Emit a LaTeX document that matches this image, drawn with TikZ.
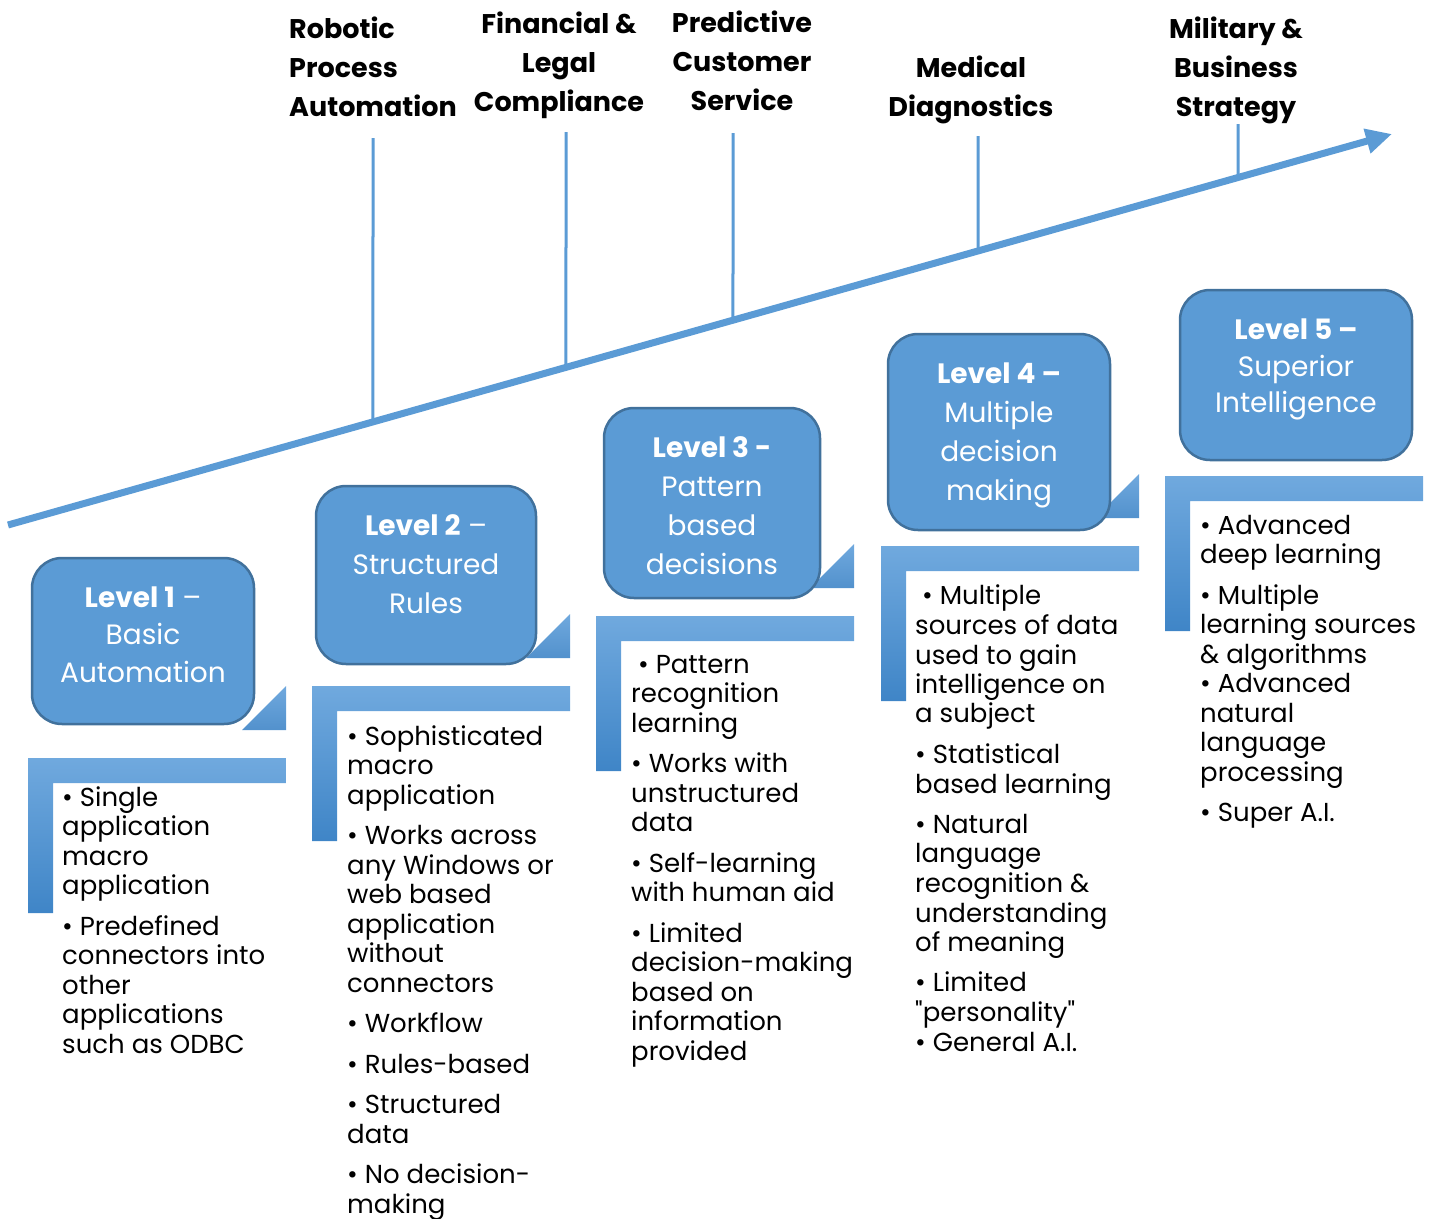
\documentclass[tikz,border=0pt]{standalone}
\usepackage{fontspec}
\setmainfont{Poppins}
\usetikzlibrary{positioning,calc,arrows.meta}
\definecolor{lvlblue}{HTML}{5B9BD5}
\definecolor{lvledge}{HTML}{41719C}
\definecolor{barlight}{HTML}{70A9DE}
\definecolor{bardark}{HTML}{3F85C7}

\begin{document}
\begin{tikzpicture}[x=1pt, y=-1pt,
  lvlbox/.style={draw=lvledge, line width=2.5pt, fill=lvlblue, rounded corners=30pt, inner sep=0pt},
  lvltext/.style={text=white, align=center, inner sep=0pt, font=\fontsize{28}{#1}\selectfont},
  lvltext/.default=39,
  title/.style={font=\bfseries\fontsize{27}{39}\selectfont, inner sep=0pt},
  body/.style={font=\fontsize{26}{29.5}\selectfont, align=left, inner sep=0pt, anchor=north west},
  tick/.style={draw=lvlblue, line width=3pt},
  bar/.style={top color=barlight, bottom color=bardark},
  tri/.style={top color=barlight, bottom color=bardark!90}]
  \useasboundingbox (0,0) rectangle (1429,1218);
  \def\pgap{11pt}

  % time line
  \coordinate (axisL) at (8,525);
  \coordinate (axisR) at (1392,134);
  \draw[lvlblue, line width=7pt, -{Triangle[length=26pt,width=24pt]}] (axisL) -- (axisR);

  % application areas
  \node[title, align=left, anchor=north west] (rpa) at (289,17) {Robotic\\Process\\Automation};
  \node[title, align=center, anchor=north] (flc) at (559,12) {Financial \&\\Legal\\Compliance};
  \node[title, align=center, anchor=north] (pcs) at (742,11) {Predictive\\Customer\\Service};
  \node[title, align=center, anchor=north] (med) at (971,56) {Medical\\Diagnostics};
  \node[title, align=center, anchor=north] (mbs) at (1236,17) {Military \&\\Business\\Strategy};

  \foreach \name/\x/\top in {rpa/373/138, flc/566/132, pcs/733/133, med/978/136, mbs/1238/124} {
    \pgfmathsetmacro\tpos{(\x-8)/1384}
    \coordinate (\name-top) at (\x,\top);
    \coordinate (\name-foot) at ($(axisL)!\tpos!(axisR)$);
    \draw[tick] (\name-top) -- (\name-foot);
  }

  % L shaped bars and the small corner triangles
  \foreach \bx/\by in {28/758, 312/686, 596/616, 881/546, 1165/476} {
    \shade[bar] (\bx,\by) -- ++(258,0) -- ++(0,25) -- ++(-233,0) -- ++(0,130) -- ++(-25,0) -- cycle;
  }
  \foreach \bx/\by in {28/758, 312/686, 596/616, 881/546} {
    \shade[tri] (\bx+258,\by-28) -- ++(0,-44) -- ++(-44,44) -- cycle;
  }

  % levels
  \node[lvlbox, minimum width=222pt, minimum height=166pt] (lvl1) at (143,641) {};
  \node[lvlbox, minimum width=220pt, minimum height=178pt] (lvl2) at (426,575) {};
  \node[lvlbox, minimum width=216pt, minimum height=190pt] (lvl3) at (712,503) {};
  \node[lvlbox, minimum width=222pt, minimum height=196pt] (lvl4) at (999,432) {};
  \node[lvlbox, minimum width=232pt, minimum height=170pt] (lvl5) at (1296,375) {};
  \node[lvltext=37.5] (lvl1-txt) at (143,634.5) {\textbf{Level 1} –\\Basic\\Automation};
  \node[lvltext] (lvl2-txt) at (426,564) {\textbf{Level 2} –\\Structured\\Rules};
  \node[lvltext] (lvl3-txt) at (712,505.5) {\textbf{Level 3 -}\\Pattern\\based\\decisions};
  \node[lvltext] (lvl4-txt) at (999,435.5) {\textbf{Level 4 –}\\Multiple\\decision\\making};
  \node[lvltext=36.5] (lvl5-txt) at (1296,369.5) {\textbf{Level 5 –}\\Superior\\Intelligence};

  % what each level does
  \node[body] (txt1) at (62,786) {\textbullet\ Single\\application\\macro\\application\\[\pgap]%
    \textbullet\ Predefined\\connectors into\\other\\applications\\such as ODBC};
  \node[body] (txt2) at (347,725) {\textbullet\ Sophisticated\\macro\\application\\[\pgap]%
    \textbullet\ Works across\\any Windows or\\web based\\application\\without\\connectors\\[\pgap]%
    \textbullet\ Workflow\\[\pgap]\textbullet\ Rules-based\\[\pgap]\textbullet\ Structured\\data\\[\pgap]%
    \textbullet\ No decision-\\making};
  \node[body] (txt3) at (631,655) {\ \textbullet\ Pattern\\recognition\\learning\\[\pgap]%
    \textbullet\ Works with\\unstructured\\data\\[\pgap]\textbullet\ Self-learning\\with human aid\\[\pgap]%
    \textbullet\ Limited\\decision-making\\based on\\information\\provided};
  \node[body] (txt4) at (915,585) {\ \textbullet\ Multiple\\sources of data\\used to gain\\intelligence on\\a subject\\[\pgap]%
    \textbullet\ Statistical\\based learning\\[\pgap]\textbullet\ Natural\\language\\recognition \&\\understanding\\of meaning\\[\pgap]%
    \textbullet\ Limited\\\textquotedbl personality\textquotedbl\\\textbullet\ General A.I.};
  \node[body] (txt5) at (1200,515) {\textbullet\ Advanced\\deep learning\\[\pgap]%
    \textbullet\ Multiple\\learning sources\\\& algorithms\\\textbullet\ Advanced\\natural\\language\\processing\\[\pgap]%
    \textbullet\ Super A.I.};
\end{tikzpicture}
\end{document}
